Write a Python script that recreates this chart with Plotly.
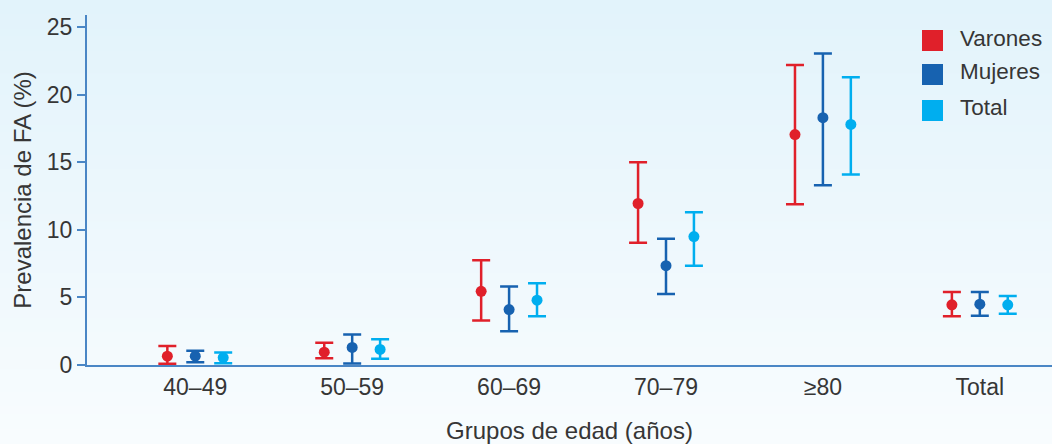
import numpy as np
import plotly.graph_objects as go

categories = ["40–49", "50–59", "60–69", "70–79", "≥80", "Total"]
series_names = ["Varones", "Mujeres", "Total"]
colors = ["#e0202a", "#1762b0", "#00aeef"]

varones = [0.65, 0.95, 5.45, 11.95, 17.05, 4.45]
varones_lo = [0.1, 0.5, 3.3, 9.05, 11.9, 3.6]
varones_hi = [1.4, 1.65, 7.75, 15.0, 22.2, 5.4]

mujeres = [0.65, 1.3, 4.1, 7.35, 18.3, 4.5]
mujeres_lo = [0.2, 0.12, 2.5, 5.25, 13.3, 3.65]
mujeres_hi = [1.05, 2.25, 5.8, 9.35, 23.05, 5.4]

total = [0.55, 1.15, 4.8, 9.5, 17.8, 4.45]
total_lo = [0.13, 0.47, 3.6, 7.35, 14.1, 3.8]
total_hi = [0.92, 1.9, 6.05, 11.3, 21.3, 5.1]

values = [varones, mujeres, total]
lows = [varones_lo, mujeres_lo, total_lo]
highs = [varones_hi, mujeres_hi, total_hi]
offsets = [-0.178, 0.0, 0.178]

W, H = 1052, 444
ML, MR, MT, MB = 87, 0, 15, 79
pw, ph = W - ML - MR, H - MT - MB

font_family = "Liberation Sans, Arial, sans-serif"
text_color = "#363636"
axis_color = "#4a86c5"

fig = go.Figure()
base = np.arange(len(categories))
for name, vals, lo, hi, off, col in zip(series_names, values, lows, highs, offsets, colors):
    v = np.array(vals)
    fig.add_trace(go.Scatter(
        x=base + off, y=v, mode="markers", name=name, showlegend=False,
        marker=dict(color=col, size=11),
        error_y=dict(type="data", symmetric=False,
                     array=np.array(hi) - v, arrayminus=v - np.array(lo),
                     color=col, thickness=2.5, width=9),
        cliponaxis=False,
    ))

# background gradient
shapes = []
N = 60
y_bot = -MB / ph
y_top = 1 + MT / ph
top_rgb = np.array([226, 243, 251])
bot_rgb = np.array([248, 252, 254])
for i in range(N):
    t = i / (N - 1)
    c = top_rgb * (1 - t) + bot_rgb * t
    y1 = y_top - (y_top - y_bot) * i / N + 0.002
    y0 = y_top - (y_top - y_bot) * (i + 1) / N - 0.002
    shapes.append(dict(type="rect", xref="paper", yref="paper",
                       x0=-0.2, x1=1.1, y0=y0, y1=y1, layer="below",
                       line=dict(width=0),
                       fillcolor="rgb(%d,%d,%d)" % tuple(c.round().astype(int))))

# legend
annotations = []
sq_top = [30, 64, 100]
for name, col, top in zip(series_names, colors, sq_top):
    x0 = (922 - ML) / pw
    x1 = (943 - ML) / pw
    y1 = (H - MB - top) / ph
    y0 = (H - MB - (top + 21)) / ph
    shapes.append(dict(type="rect", xref="paper", yref="paper", x0=x0, x1=x1,
                       y0=y0, y1=y1, fillcolor=col, line=dict(width=0)))
    annotations.append(dict(xref="paper", yref="paper", x=(958 - ML) / pw,
                            y=(H - MB - (top + 8)) / ph, xanchor="left", yanchor="middle",
                            text=name, showarrow=False,
                            font=dict(size=22.5, color=text_color, family=font_family)))

fig.update_layout(
    width=W, height=H,
    margin=dict(l=ML, r=MR, t=MT, b=MB),
    paper_bgcolor="#f4fafd",
    plot_bgcolor="rgba(0,0,0,0)",
    shapes=shapes, annotations=annotations,
    showlegend=False,
    font=dict(family=font_family, color=text_color, size=22),
)
fig.update_xaxes(
    range=[-0.69, 5.46], tickvals=list(base), ticktext=categories,
    showgrid=False, zeroline=False, showline=True, linecolor=axis_color, linewidth=2,
    ticks="", tickfont=dict(size=23, color=text_color),
    title=dict(text="Grupos de edad (años)", font=dict(size=24, color=text_color), standoff=26),
)
fig.update_yaxes(
    range=[0, 25.9], tickvals=[0, 5, 10, 15, 20, 25],
    showgrid=False, zeroline=False, showline=True, linecolor=axis_color, linewidth=2,
    ticks="outside", ticklen=8, tickcolor=axis_color, tickwidth=2,
    tickfont=dict(size=23, color=text_color),
    title=dict(text="Prevalencia de FA (%)", font=dict(size=24, color=text_color), standoff=8),
)

fig.write_html("out.html", config={"displayModeBar": False},
               post_script="document.body.style.margin='0';document.body.style.padding='0';")
